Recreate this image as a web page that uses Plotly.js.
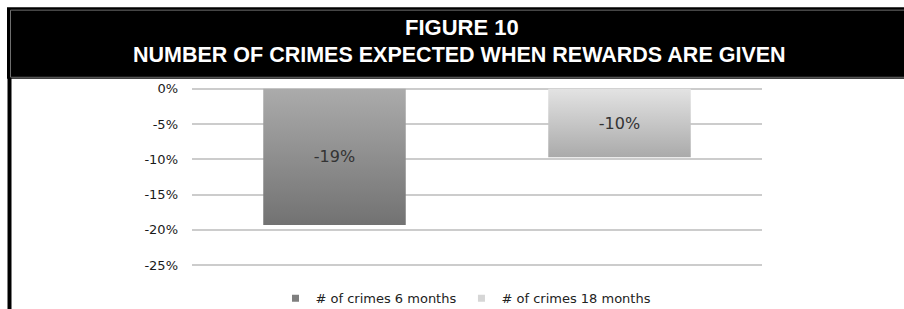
<!DOCTYPE html>
<html>
<head>
<meta charset="utf-8">
<script src="https://cdn.plot.ly/plotly-3.0.1.min.js"></script>
<style>
  html, body { margin: 0; padding: 0; background: #ffffff; }
  #chart { width: 904px; height: 309px; }
</style>
</head>
<body>
<svg width="0" height="0" style="position:absolute">
  <defs>
    <linearGradient id="grad6" x1="0" y1="0" x2="0" y2="1">
      <stop offset="0" stop-color="#ababab"/>
      <stop offset="1" stop-color="#727272"/>
    </linearGradient>
    <linearGradient id="grad18" x1="0" y1="0" x2="0" y2="1">
      <stop offset="0" stop-color="#e3e3e3"/>
      <stop offset="1" stop-color="#aaaaaa"/>
    </linearGradient>
  </defs>
</svg>
<div id="chart"></div>
<script>
// ---- data ----
const categories = ["6 months", "18 months"];
const seriesNames = ["# of crimes 6 months", "# of crimes 18 months"];
const change6Months = [-0.193];
const change18Months = [-0.097];
const yTickValues = [0, -0.05, -0.10, -0.15, -0.20, -0.25];
const yTickLabels = ["0%", "-5%", "-10%", "-15%", "-20%", "-25%"];
const seriesColors = ["#7f7f7f", "#d6d6d6"];
const titleLine1 = "FIGURE 10";
const titleLine2 = "NUMBER OF CRIMES EXPECTED WHEN REWARDS ARE GIVEN";

const pctLabel = v => Math.round(v * 100) + "%";
const labelFont = { family: "DejaVu Sans", size: 16, color: "#333333" };

const seriesValues = [change6Months, change18Months];
const traces = [];
seriesValues.forEach(function (vals, i) {
  traces.push({
    type: "bar",
    name: seriesNames[i],
    legendgroup: "s" + i,
    showlegend: false,
    x: [categories[i]],
    y: vals,
    text: vals.map(pctLabel),
    width: 0.5,
    marker: { color: seriesColors[i] },
    textposition: "inside",
    insidetextanchor: "middle",
    textangle: 0,
    textfont: labelFont,
    hoverinfo: "skip"
  });
});
// legend entries (small square swatches, as in the original)
seriesNames.forEach(function (n, i) {
  traces.push({
    type: "scatter",
    mode: "markers",
    name: n,
    legendgroup: "s" + i,
    x: [null],
    y: [null],
    marker: { symbol: "square", size: 7, color: seriesColors[i] },
    hoverinfo: "skip"
  });
});

// pixel helpers for decorations outside the plot area (header box)
const M = { l: 192, r: 142, t: 86.2, b: 41.2, autoexpand: false };
const W = 904, H = 309;
const pw = W - M.l - M.r, ph = H - M.t - M.b;
const px = v => (v - M.l) / pw;
const py = v => (H - M.b - v) / ph;

const layout = {
  width: W,
  height: H,
  margin: M,
  paper_bgcolor: "#ffffff",
  plot_bgcolor: "#ffffff",
  barmode: "overlay",
  showlegend: true,
  legend: {
    orientation: "h",
    x: px(466),
    xanchor: "center",
    y: py(298),
    yanchor: "middle",
    font: { family: "DejaVu Sans", size: 13, color: "#222222" },
    itemwidth: 30,
    traceorder: "normal"
  },
  xaxis: {
    type: "category",
    categoryorder: "array",
    categoryarray: categories,
    showticklabels: false,
    showgrid: false,
    zeroline: false,
    showline: false,
    ticks: ""
  },
  yaxis: {
    range: [-0.254, 0.004],
    tickvals: yTickValues,
    ticktext: yTickLabels,
    showgrid: true,
    gridcolor: "#cccccc",
    gridwidth: 2,
    zeroline: false,
    showline: false,
    ticks: "",
    ticklabelstandoff: 13,
    tickfont: { family: "DejaVu Sans", size: 13, color: "#1a1a1a" }
  },
  shapes: [
    { type: "rect", xref: "paper", yref: "paper",
      x0: px(7), x1: px(906), y0: py(79), y1: py(7.5),
      fillcolor: "#000000", line: { width: 0 }, layer: "above" },
    { type: "rect", xref: "paper", yref: "paper",
      x0: px(10.5), x1: px(910), y0: py(77.5), y1: py(10.5),
      fillcolor: "rgba(0,0,0,0)", line: { color: "#6e6e6e", width: 1 }, layer: "above" },
    { type: "line", xref: "paper", yref: "paper",
      x0: px(9.5), x1: px(9.5), y0: py(78), y1: py(315),
      line: { color: "#000000", width: 4 }, layer: "above" }
  ],
  annotations: [
    { text: "<b>" + titleLine1 + "</b>", xref: "paper", yref: "paper",
      x: px(462), y: py(27.5), xanchor: "center", yanchor: "middle", showarrow: false,
      font: { family: "Liberation Sans", size: 22, color: "#ffffff" } },
    { text: "<b>" + titleLine2 + "</b>", xref: "paper", yref: "paper",
      x: px(459.5), y: py(54.8), xanchor: "center", yanchor: "middle", showarrow: false,
      font: { family: "Liberation Sans", size: 21.5, color: "#ffffff" } }
  ]
};

Plotly.newPlot("chart", traces, layout, { staticPlot: true, displayModeBar: false }).then(function (gd) {
  const gradIds = ["grad6", "grad18"];
  const barTraces = gd.querySelectorAll(".barlayer .trace.bars");
  barTraces.forEach(function (t, i) {
    t.querySelectorAll(".point path").forEach(function (p) {
      p.style.fill = "url(#" + gradIds[i] + ")";
    });
  });
});
</script>
</body>
</html>
